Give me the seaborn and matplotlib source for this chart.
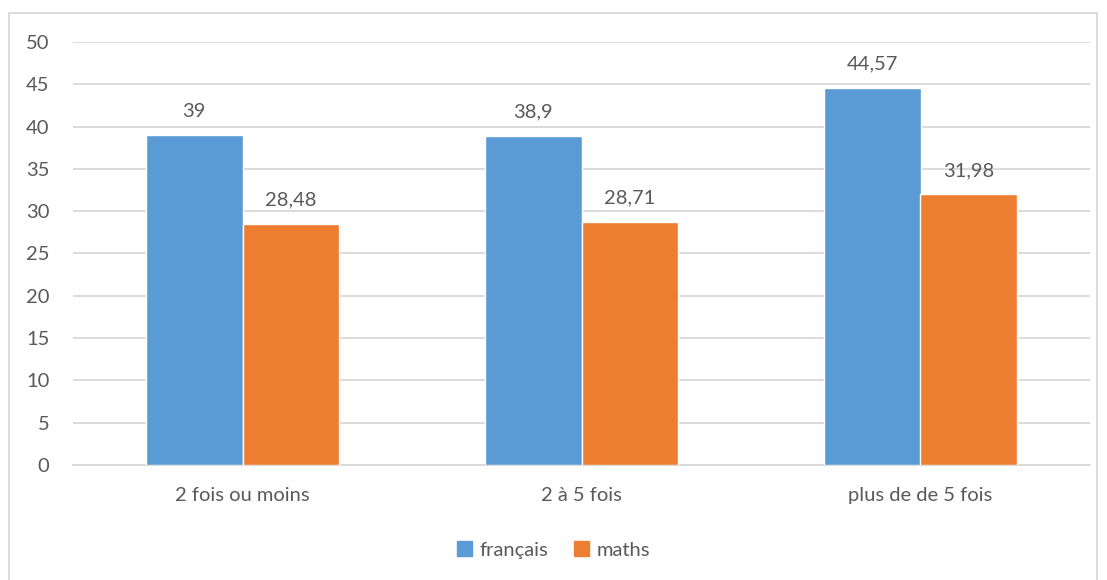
import matplotlib
matplotlib.use("Agg")
import matplotlib.pyplot as plt
import seaborn as sns
import pandas as pd
from matplotlib.patches import Rectangle

categories = ["2 fois ou moins", "2 à 5 fois", "plus de de 5 fois"]
series_names = ["français", "maths"]
francais = [39, 38.9, 44.57]
maths = [28.48, 28.71, 31.98]
colors = ["#5B9BD5", "#ED7D31"]
yticks = [0, 5, 10, 15, 20, 25, 30, 35, 40, 45, 50]

sns.set_theme(style="white")
plt.rcParams["font.family"] = ["Lato", "DejaVu Sans"]
txt = "#595959"
fs = 14.5

df = pd.DataFrame({
    "cat": categories * 2,
    "serie": [series_names[0]] * 3 + [series_names[1]] * 3,
    "val": francais + maths,
})

fig = plt.figure(figsize=(11.07, 5.8), dpi=100)
ax = fig.add_axes([73 / 1107, 1 - 465 / 580, (1090 - 73) / 1107, (465 - 42) / 580])

sns.barplot(data=df, x="cat", y="val", hue="serie", palette=colors,
            width=0.572, gap=0, saturation=1, ax=ax, legend=False, zorder=3)

ax.set_ylim(0, 50)
ax.set_xlim(-0.5, 2.5)
ax.set_yticks(yticks)
ax.set_yticklabels([str(t) for t in yticks], fontsize=fs, color=txt)
ax.tick_params(axis="x", labelsize=fs, colors=txt, length=0, pad=16)
ax.tick_params(axis="y", length=0, pad=17)
ax.set_xlabel("")
ax.set_ylabel("")
ax.grid(axis="y", color="#D9D9D9", linewidth=1.3, zorder=0)
ax.set_axisbelow(True)
for s in ["top", "right", "left"]:
    ax.spines[s].set_visible(False)
ax.spines["bottom"].set_color("#D9D9D9")
ax.spines["bottom"].set_linewidth(1.3)

for cont in ax.containers:
    labels = [f"{b.get_height():g}".replace(".", ",") for b in cont]
    ax.bar_label(cont, labels=labels, padding=11, fontsize=fs, color=txt)

# legend
handles = [Rectangle((0, 0), 1, 1, color=c) for c in colors]
fig.legend(handles, series_names, loc="center", bbox_to_anchor=(0.5, 1 - 550 / 580),
           ncol=2, frameon=False, fontsize=fs, labelcolor=txt,
           handlelength=0.75, handleheight=0.75, handletextpad=0.35, columnspacing=1.3)

# chart border
fig.patches.append(Rectangle((9 / 1107, -0.01), (1097 - 9) / 1107, 1 - 13 / 580 + 0.01,
                             transform=fig.transFigure, fill=False,
                             edgecolor="#D9D9D9", linewidth=1.3))

fig.savefig("out.png", dpi=100)
